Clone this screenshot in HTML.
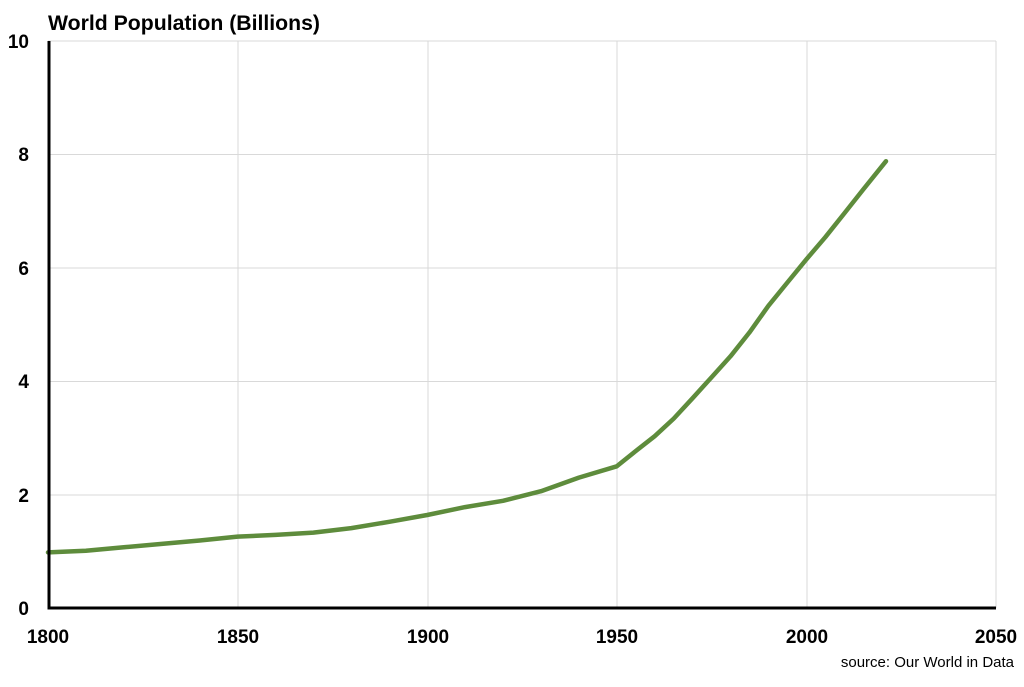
<!DOCTYPE html>
<html><head><style>body{margin:0;background:#fff}svg{display:block}</style></head><body>
<svg width="1024" height="687" xmlns="http://www.w3.org/2000/svg" font-family="Liberation Sans, sans-serif">
<rect width="1024" height="687" fill="#fff"/>
<text x="48" y="30" font-size="21" font-weight="bold" fill="#000" textLength="272" lengthAdjust="spacingAndGlyphs">World Population (Billions)</text>
<g stroke="#d9d9d9" stroke-width="1">
<line x1="48" y1="41" x2="996" y2="41"/><line x1="48" y1="154.5" x2="996" y2="154.5"/><line x1="48" y1="268" x2="996" y2="268"/><line x1="48" y1="381.5" x2="996" y2="381.5"/><line x1="48" y1="495" x2="996" y2="495"/>
<line x1="238" y1="41" x2="238" y2="608"/><line x1="428" y1="41" x2="428" y2="608"/><line x1="617" y1="41" x2="617" y2="608"/><line x1="807" y1="41" x2="807" y2="608"/><line x1="996" y1="41" x2="996" y2="608"/>
</g>
<polyline fill="none" stroke="#5e8c3c" stroke-width="4.5" stroke-linejoin="round" stroke-linecap="round" points="48,552.4 85.9,550.7 123.8,547.3 161.8,543.9 199.7,540.5 237.6,536.6 275.5,534.9 313.4,532.6 351.4,528.1 389.3,521.8 427.2,515 465.1,507.1 503,500.8 541,491.2 578.9,477.6 616.8,466.3 635.8,451 654.7,436.2 673.7,418.6 692.6,398.2 711.6,377.2 730.5,356.3 749.5,332.4 768.4,305.8 787.4,282.5 806.4,259.3 825.3,237.2 844.3,213.4 863.2,189.5 886,161.2"/>
<path d="M49,41 V608 H996" fill="none" stroke="#000" stroke-width="3"/>
<g font-size="19" font-weight="bold" fill="#000" text-anchor="end">
<text x="29" y="48">10</text><text x="29" y="161">8</text><text x="29" y="275">6</text><text x="29" y="388">4</text><text x="29" y="502">2</text><text x="29" y="615">0</text>
</g>
<g font-size="19" font-weight="bold" fill="#000" text-anchor="middle">
<text x="48" y="643">1800</text><text x="238" y="643">1850</text><text x="428" y="643">1900</text><text x="617" y="643">1950</text><text x="807" y="643">2000</text><text x="996" y="643">2050</text>
</g>
<text x="1014" y="667" font-size="15" fill="#000" text-anchor="end">source: Our World in Data</text>
</svg>
</body></html>
